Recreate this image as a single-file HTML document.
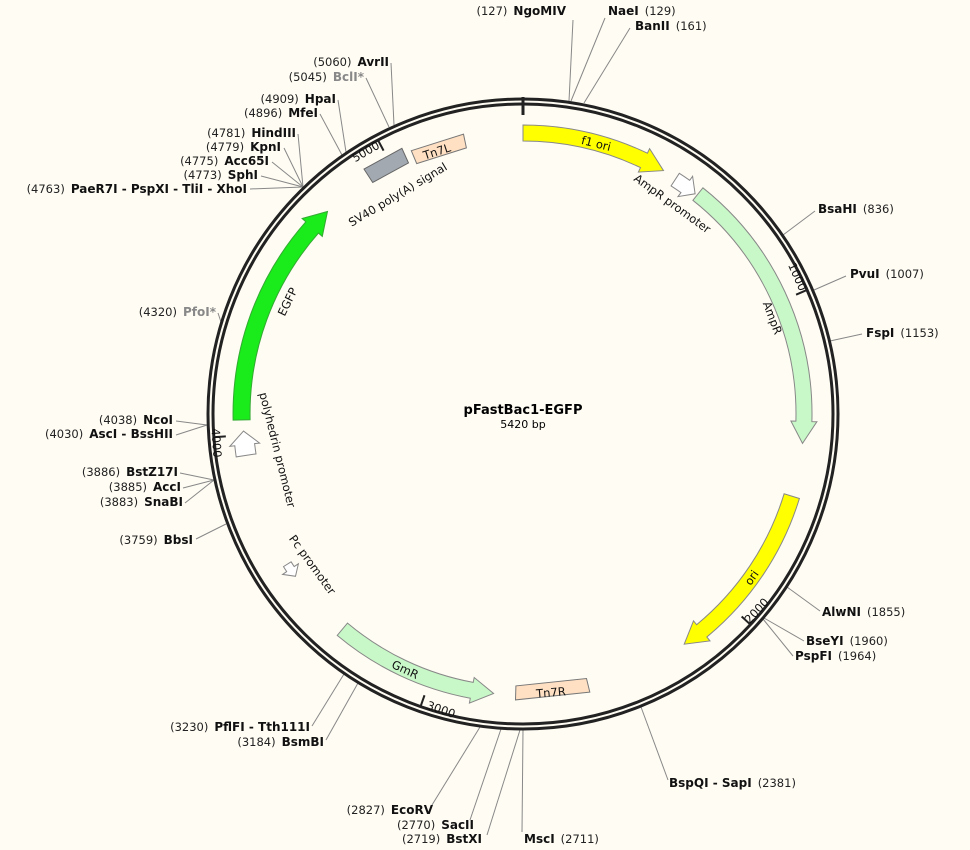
<!DOCTYPE html>
<html><head><meta charset="utf-8">
<style>
html,body{margin:0;padding:0;background:#fffcf3;}
svg{display:block;font-family:"DejaVu Sans","Liberation Sans",sans-serif;}
.n{font-size:11.5px;fill:#222;}
.b{font-size:12px;font-weight:bold;fill:#111;}
.g{fill:#888;}
.f{font-size:11.5px;fill:#111;}
</style></head>
<body>
<svg id="s" width="970" height="850" viewBox="0 0 970 850" xmlns="http://www.w3.org/2000/svg">
<rect width="970" height="850" fill="#fffcf3"/>
<g id="lines" stroke="#888" stroke-width="1" fill="none"></g>
<circle cx="523" cy="414" r="315" fill="none" stroke="#222" stroke-width="3"/>
<circle cx="523" cy="414" r="310" fill="none" stroke="#222" stroke-width="3"/>
<line x1="523" y1="97" x2="523" y2="115" stroke="#222" stroke-width="3"/>
<g id="feat"></g>
<g id="txt"></g>
<text x="523" y="414" text-anchor="middle" style="font-size:13px;font-weight:bold">pFastBac1-EGFP</text>
<text x="523" y="428" text-anchor="middle" style="font-size:11px">5420 bp</text>
</svg>
<script>
var cx=523,cy=414;
function P(a,r){var t=a*Math.PI/180;return [cx+r*Math.sin(t),cy-r*Math.cos(t)];}
function f(p){return p[0].toFixed(1)+","+p[1].toFixed(1);}
function arc(a1,a2,r,sweep){var p=P(a2,r);var large=Math.abs(a2-a1)>180?1:0;return "A"+r+","+r+" 0 "+large+","+sweep+" "+f(p);}
function arrow(a1,a2,ri,ro,dir,h,fill,stroke){
 var e=5,rm=(ri+ro)/2,d;
 if(dir>0){var b=a2-h;
  d="M"+f(P(a1,ro))+arc(a1,b,ro,1)+"L"+f(P(b,ro+e))+"L"+f(P(a2,rm))+"L"+f(P(b,ri-e))+"L"+f(P(b,ri))+arc(b,a1,ri,0)+"Z";
 }else{var b=a1+h;
  d="M"+f(P(a2,ro))+arc(a2,b,ro,0)+"L"+f(P(b,ro+e))+"L"+f(P(a1,rm))+"L"+f(P(b,ri-e))+"L"+f(P(b,ri))+arc(b,a2,ri,1)+"Z";}
 return '<path d="'+d+'" fill="'+fill+'" stroke="'+(stroke||"#888")+'" stroke-width="1"/>';
}
function box(a1,a2,ri,ro,fill,stroke){
 var d="M"+f(P(a1,ro))+"L"+f(P(a2,ro))+"L"+f(P(a2,ri))+"L"+f(P(a1,ri))+"Z";
 return '<path d="'+d+'" fill="'+fill+'" stroke="'+(stroke||"#777")+'" stroke-width="1"/>';
}
var F="";
F+=arrow(0,30,273,289,1,4.5,"#ffff00");
F+=arrow(33,38,272,287,1,2.5,"#ffffff");
F+=arrow(38.5,96,273,289,1,4.5,"#c8f8c8");
F+=arrow(107,145,273,289,1,4.5,"#ffff00");
F+=box(166.5,181.5,272,286,"#ffe0c2");
F+=arrow(186,220,273,289,-1,4.5,"#c8f8c8");
F+=arrow(234.5,237.5,275,284,-1,1.8,"#ffffff");
F+=arrow(261.5,266.5,270,290,1,2.8,"#ffffff");
F+=arrow(268.8,316,273,290,1,4.5,"#1aeb1a","#3a3");
F+=box(327,335.5,276,292,"#a2a9b1","#666");
F+=box(337,348,272,286,"#ffe0c2");
var T="";
[66.4,132.8,199.3,265.7,332.1].forEach(function(a){T+='<line x1="'+P(a,309)[0]+'" y1="'+P(a,309)[1]+'" x2="'+P(a,298)[0]+'" y2="'+P(a,298)[1]+'" stroke="#222" stroke-width="2"/>';});
document.getElementById("feat").innerHTML=F+T;
var L=[[569,101,573,20],[571,101,605,18],[584,103,630,28],[783,235,815,211],[814,290,846,276],[830,341,862,334],
[787,587,820,611],[764,618,804,641],[763,619,793,656],[641,707,668,780],[523,730,522,832],[520,730,487,835],
[501,729,470,820],[480,727,432,805],[344,674,312,726],[358,683,326,740],[226,524,196,539],
[214,480,180,473],[214,480,183,488],[214,480,185,503],[207,425,176,421],[207,425,176,435],[221,322,218,313],
[303,187,298,134],[303,187,284,148],[303,187,272,162],[303,187,261,176],[303,187,250,189],
[342,155,320,114],[346,152,338,100],[389,127,366,78],[394,125,391,63]];
var S="";L.forEach(function(l){S+='<line x1="'+l[0]+'" y1="'+l[1]+'" x2="'+l[2]+'" y2="'+l[3]+'"/>';});
document.getElementById("lines").innerHTML=S;
var LB=[["(127)","NgoMIV",566,15,"e"],["NaeI","(129)",608,15,"s2"],["BanII","(161)",635,30,"s2"],
["BsaHI","(836)",818,213,"s2"],["PvuI","(1007)",850,278,"s2"],["FspI","(1153)",866,337,"s2"],
["AlwNI","(1855)",822,616,"s2"],["BseYI","(1960)",806,645,"s2"],["PspFI","(1964)",795,660,"s2"],
["BspQI - SapI","(2381)",669,787,"s2"],["MscI","(2711)",524,843,"s2"],
["(2719)","BstXI",482,843,"e"],["(2770)","SacII",474,829,"e"],["(2827)","EcoRV",433,814,"e"],
["(3230)","PflFI - Tth111I",310,731,"e"],["(3184)","BsmBI",324,746,"e"],["(3759)","BbsI",193,544,"e"],
["(3886)","BstZ17I",178,476,"e"],["(3885)","AccI",181,491,"e"],["(3883)","SnaBI",183,506,"e"],
["(4038)","NcoI",173,424,"e"],["(4030)","AscI - BssHII",173,438,"e"],["(4320)","PfoI*",216,316,"e",1],
["(4781)","HindIII",296,137,"e"],["(4779)","KpnI",281,151,"e"],["(4775)","Acc65I",269,165,"e"],
["(4773)","SphI",258,179,"e"],["(4763)","PaeR7I - PspXI - TliI - XhoI",247,193,"e"],
["(4896)","MfeI",318,117,"e"],["(4909)","HpaI",336,103,"e"],["(5045)","BclI*",364,81,"e",1],["(5060)","AvrII",389,66,"e"]];
var X="";
LB.forEach(function(l){
 if(l[4]=="e"){X+='<text x="'+l[2]+'" y="'+l[3]+'" text-anchor="end"><tspan class="n">'+l[0]+'</tspan><tspan class="b'+(l[5]?' g':'')+'" dx="6">'+l[1]+'</tspan></text>';}
 else{X+='<text x="'+l[2]+'" y="'+l[3]+'"><tspan class="b">'+l[0]+'</tspan><tspan class="n" dx="6">'+l[1]+'</tspan></text>';}
});
var FL=[["f1 ori",596,144,14],["AmpR promoter",672,204,36],["AmpR",772,318,69],["ori",752,578,-55],["2000",757,611,-47],
["Tn7R",551,693,-5],["GmR",405,670,25],["3000",441,710,19],["Pc promoter",312,565,54],["polyhedrin promoter",277,450,76],
["4000",216,443,86],["EGFP",288,302,-64],["SV40 poly(A) signal",398,195,-31],["5000",366,152,-30],["Tn7L",437,152,-18],["1000",797,277,66]];
FL.forEach(function(l){X+='<text class="f" text-anchor="middle" dominant-baseline="middle" transform="translate('+l[1]+','+l[2]+') rotate('+l[3]+')">'+l[0]+'</text>';});
document.getElementById("txt").innerHTML=X;
</script>
</body></html>
